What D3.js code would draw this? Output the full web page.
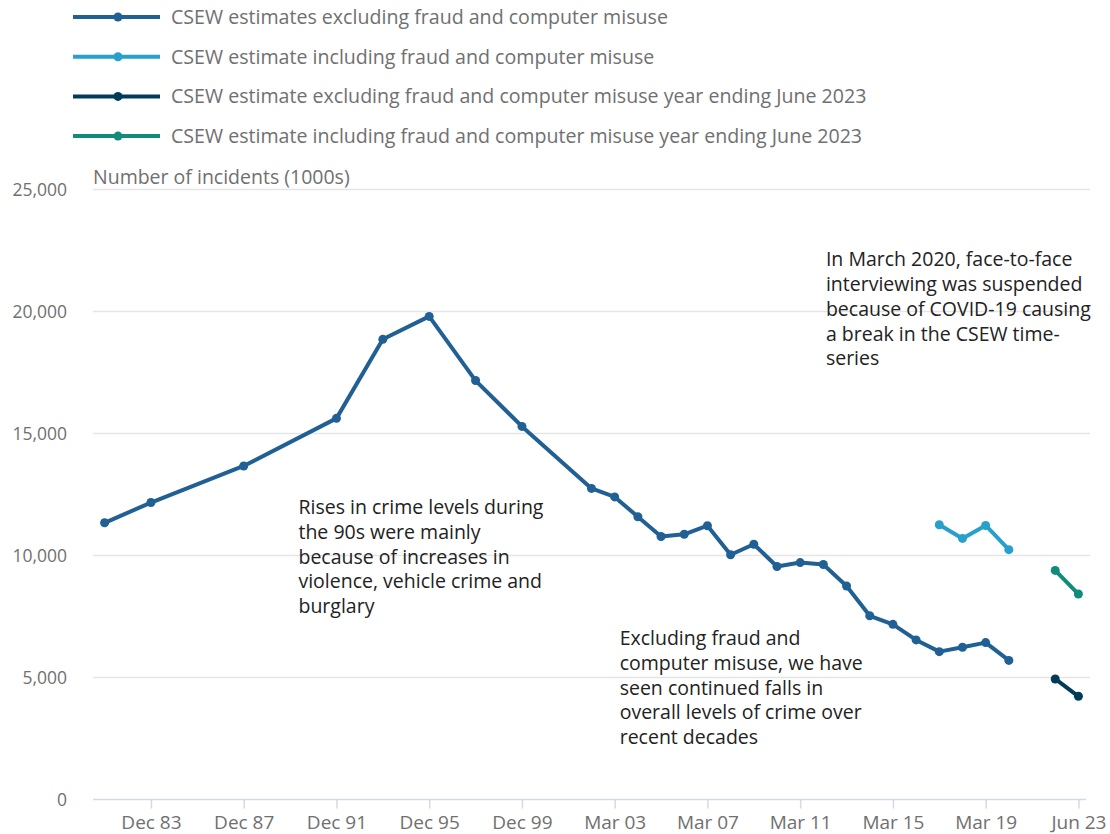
<!DOCTYPE html>
<html>
<head>
<meta charset="utf-8">
<script src="https://cdn.jsdelivr.net/npm/d3@7"></script>
<style>
  body { margin: 0; background: #fff; }
  svg { font-family: "Open Sans", sans-serif; display: block; }
</style>
</head>
<body>
<div id="chart"></div>
<script>
// Categories (year ending), one per slot on the x axis
const categories = [
  "Dec 81", "Dec 82", "Dec 83", "Dec 84", "Dec 85", "Dec 86", "Dec 87", "Dec 88", "Dec 89", "Dec 90",
  "Dec 91", "Dec 92", "Dec 93", "Dec 94", "Dec 95", "Dec 96", "Dec 97", "Dec 98", "Dec 99", "Dec 00",
  "Mar 01", "Mar 02", "Mar 03", "Mar 04", "Mar 05", "Mar 06", "Mar 07", "Mar 08", "Mar 09", "Mar 10",
  "Mar 11", "Mar 12", "Mar 13", "Mar 14", "Mar 15", "Mar 16", "Mar 17", "Mar 18", "Mar 19", "Mar 20",
  "Mar 21", "Jun 22", "Jun 23"
];
const tickLabels = ["Dec 83", "Dec 87", "Dec 91", "Dec 95", "Dec 99", "Mar 03", "Mar 07", "Mar 11", "Mar 15", "Mar 19", "Jun 23"];
const yTicks = [0, 5000, 10000, 15000, 20000, 25000];

// Series values (1000s), null where there is no estimate
const exclFraud = [
  11340, null, 12170, null, null, null, 13670, null, null, null,
  15620, null, 18860, null, 19800, null, 17170, null, 15290, null,
  null, 12750, 12400, 11590, 10780, 10870, 11220, 10030, 10460, 9550,
  9710, 9630, 8750, 7530, 7180, 6540, 6060, 6240, 6430, 5700,
  null, null, null
];
const inclFraud = [
  null, null, null, null, null, null, null, null, null, null,
  null, null, null, null, null, null, null, null, null, null,
  null, null, null, null, null, null, null, null, null, null,
  null, null, null, null, null, null, 11260, 10700, 11230, 10240,
  null, null, null
];
const exclFraudJun23 = [
  null, null, null, null, null, null, null, null, null, null,
  null, null, null, null, null, null, null, null, null, null,
  null, null, null, null, null, null, null, null, null, null,
  null, null, null, null, null, null, null, null, null, null,
  null, 4940, 4230
];
const inclFraudJun23 = [
  null, null, null, null, null, null, null, null, null, null,
  null, null, null, null, null, null, null, null, null, null,
  null, null, null, null, null, null, null, null, null, null,
  null, null, null, null, null, null, null, null, null, null,
  null, 9390, 8420
];

const seriesNames = [
  "CSEW estimates excluding fraud and computer misuse",
  "CSEW estimate including fraud and computer misuse",
  "CSEW estimate excluding fraud and computer misuse year ending June 2023",
  "CSEW estimate including fraud and computer misuse year ending June 2023"
];
const seriesColors = ["#206095", "#27a0cc", "#003c57", "#118c7b"];
const seriesValues = [exclFraud, inclFraud, exclFraudJun23, inclFraudJun23];

const annotations = [
  { at: "Dec 91", value: 11700, dx: -38, lines: ["Rises in crime levels during", "the 90s were mainly", "because of increases in", "violence, vehicle crime and", "burglary"] },
  { at: "Mar 03", value: 6330, dx: 5, lines: ["Excluding fraud and", "computer misuse, we have", "seen continued falls in", "overall levels of crime over", "recent decades"] },
  { at: "Mar 15", value: 21860, dx: -67, lines: ["In March 2020, face-to-face", "interviewing was suspended", "because of COVID-19 causing", "a break in the CSEW time-", "series"] }
];

const width = 1110, height = 834;
const plot = { left: 93, right: 1090, top: 189.5, bottom: 799.5 };

const svg = d3.select("#chart")
    .append("svg")
    .attr("width", width)
    .attr("height", height);

const x = d3.scalePoint().domain(categories).range([plot.left, plot.right]).padding(0.5);
const y = d3.scaleLinear().domain([0, 25000]).range([plot.bottom, plot.top]);

// Gridlines
svg.append("g")
    .selectAll("line")
    .data(yTicks.filter(d => d > 0))
    .join("line")
    .attr("x1", plot.left)
    .attr("x2", plot.right)
    .attr("y1", d => y(d))
    .attr("y2", d => y(d))
    .attr("stroke", "#e5e5e5")
    .attr("stroke-width", 1.5);

// Y axis labels
svg.append("g")
    .selectAll("text")
    .data(yTicks)
    .join("text")
    .attr("x", 67)
    .attr("y", d => y(d))
    .attr("dy", "0.35em")
    .attr("text-anchor", "end")
    .attr("fill", "#707070")
    .attr("font-size", 17.5)
    .text(d => d3.format(",")(d));

svg.append("text")
    .attr("x", plot.left)
    .attr("y", 184)
    .attr("fill", "#707070")
    .attr("font-size", 19.5)
    .text("Number of incidents (1000s)");

// X axis
const xAxis = svg.append("g")
    .attr("transform", `translate(0,${plot.bottom})`)
    .call(d3.axisBottom(x).tickValues(tickLabels).tickSize(9).tickPadding(7));
xAxis.select(".domain").attr("stroke", "#d3d9e6").attr("stroke-width", 1.5)
    .attr("d", `M${plot.left},0H${plot.right - 4}`);
xAxis.selectAll(".tick line").attr("stroke", "#d3d9e6").attr("stroke-width", 1.5);
xAxis.selectAll(".tick text")
    .attr("fill", "#707070")
    .attr("font-size", 19)
    .attr("font-family", "Open Sans, sans-serif");

// Lines and points
const line = d3.line()
    .x(d => x(d.cat))
    .y(d => y(d.value));

seriesValues.forEach((vals, i) => {
    const pts = categories.map((c, j) => ({ cat: c, value: vals[j] })).filter(d => d.value != null);
    const g = svg.append("g");
    g.append("path")
        .datum(pts)
        .attr("fill", "none")
        .attr("stroke", seriesColors[i])
        .attr("stroke-width", 4)
        .attr("stroke-linejoin", "round")
        .attr("d", line);
    g.selectAll("circle")
        .data(pts)
        .join("circle")
        .attr("cx", d => x(d.cat))
        .attr("cy", d => y(d.value))
        .attr("r", 4.5)
        .attr("fill", seriesColors[i]);
});

// Annotations
annotations.forEach(a => {
    const t = svg.append("text")
        .attr("x", x(a.at) + a.dx)
        .attr("y", y(a.value))
        .attr("fill", "#222")
        .attr("font-size", 19.5);
    t.selectAll("tspan")
        .data(a.lines)
        .join("tspan")
        .attr("x", x(a.at) + a.dx)
        .attr("dy", (d, i) => i === 0 ? 0 : 24.8)
        .text(d => d);
});

// Legend
const legend = svg.append("g")
    .selectAll("g")
    .data(seriesNames)
    .join("g")
    .attr("transform", (d, i) => `translate(0,${17 + i * 39.7})`);

legend.append("line")
    .attr("x1", 73).attr("x2", 160)
    .attr("stroke", (d, i) => seriesColors[i])
    .attr("stroke-width", 4);
legend.append("circle")
    .attr("cx", 118)
    .attr("r", 4.5)
    .attr("fill", (d, i) => seriesColors[i]);
legend.append("text")
    .attr("x", 171)
    .attr("dy", "0.35em")
    .attr("fill", "#707070")
    .attr("font-size", 19.6)
    .text(d => d);
</script>
</body>
</html>
